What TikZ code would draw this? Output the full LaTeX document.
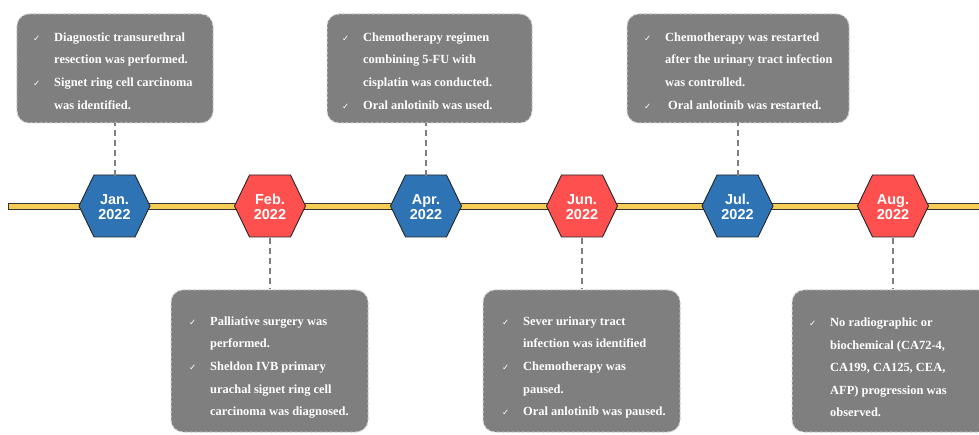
\documentclass[tikz,border=0pt]{standalone}
\usepackage{fontspec}
\setmainfont{Liberation Serif}
\newfontfamily\datefont{Liberation Sans}
\newfontfamily\symfont{DejaVu Sans}
\usepackage{tikz}
\usetikzlibrary{positioning,calc}
\usepackage{xcolor}

\definecolor{janblue}{HTML}{2E74B5}
\definecolor{febred}{HTML}{FF5050}
\definecolor{axisyellow}{HTML}{F5CD55}
\definecolor{boxgray}{HTML}{7F7F7F}
\definecolor{edgegray}{HTML}{CFCFCF}

\newcommand{\ck}{\makebox[21bp][l]{\symfont\fontsize{8.5}{8.5}\selectfont ✓}}
\newcommand{\ind}{\hspace*{21bp}}

\begin{document}
\begin{tikzpicture}[x=1bp,y=-1bp,
  hexline/.style={draw=black!85,line width=0.9bp},
  datelbl/.style={minimum width=71bp,minimum height=62bp,inner sep=0pt,align=center,text=white,
    font=\datefont\bfseries\fontsize{14.5}{15.5}\selectfont},
  notebox/.style={draw=edgegray,fill=boxgray,dash pattern=on 3bp off 2bp,line width=1bp,
    rounded corners=12bp,inner sep=0pt},
  notetxt/.style={anchor=west,align=left,inner sep=0pt,text=white,
    font=\bfseries\fontsize{12.5}{22.7}\selectfont},
  link/.style={draw=boxgray,line width=2bp,dash pattern=on 6bp off 4bp}]
\useasboundingbox (0,0) rectangle (979,435);
\clip (0,0) rectangle (979,435);

% time axis
\draw[fill=axisyellow,draw=black!80,line width=0.8bp] (8,203) rectangle (995,209.3);

% month markers
\draw[hexline,fill=janblue] (114.5,206) +(-35.5,0) -- +(-20.5,-31) -- +(20.5,-31) -- +(35.5,0) -- +(20.5,31) -- +(-20.5,31) -- cycle;
\draw[hexline,fill=febred] (270,206) +(-35.5,0) -- +(-20.5,-31) -- +(20.5,-31) -- +(35.5,0) -- +(20.5,31) -- +(-20.5,31) -- cycle;
\draw[hexline,fill=janblue] (426,206) +(-35.5,0) -- +(-20.5,-31) -- +(20.5,-31) -- +(35.5,0) -- +(20.5,31) -- +(-20.5,31) -- cycle;
\draw[hexline,fill=febred] (582,206) +(-35.5,0) -- +(-20.5,-31) -- +(20.5,-31) -- +(35.5,0) -- +(20.5,31) -- +(-20.5,31) -- cycle;
\draw[hexline,fill=janblue] (737.5,206) +(-35.5,0) -- +(-20.5,-31) -- +(20.5,-31) -- +(35.5,0) -- +(20.5,31) -- +(-20.5,31) -- cycle;
\draw[hexline,fill=febred] (893,206) +(-35.5,0) -- +(-20.5,-31) -- +(20.5,-31) -- +(35.5,0) -- +(20.5,31) -- +(-20.5,31) -- cycle;
\node[datelbl] (jan) at (114.5,207) {Jan.\\2022};
\node[datelbl] (feb) at (270,207) {Feb.\\2022};
\node[datelbl] (apr) at (426,207) {Apr.\\2022};
\node[datelbl] (jun) at (582,207) {Jun.\\2022};
\node[datelbl] (jul) at (737.5,207) {Jul.\\2022};
\node[datelbl] (aug) at (893,207) {Aug.\\2022};

% notes above
\node[notebox,minimum width=196bp,minimum height=109bp] (janbox) at (115,68.5) {};
\node[notebox,minimum width=205bp,minimum height=109bp] (aprbox) at (429.5,68.5) {};
\node[notebox,minimum width=222bp,minimum height=109bp] (julbox) at (738,68.5) {};
\node[notetxt] (jantxt) at (33,71) {\ck Diagnostic transurethral\\\ind resection was performed.\\\ck Signet ring cell carcinoma\\\ind was identified.};
\node[notetxt] (aprtxt) at (342,71) {\ck Chemotherapy regimen\\\ind combining 5-FU with\\\ind cisplatin was conducted.\\\ck Oral anlotinib was used.};
\node[notetxt] (jultxt) at (644,71) {\ck Chemotherapy was restarted\\\ind after the urinary tract infection\\\ind was controlled.\\\ck\hspace*{3bp}Oral anlotinib was restarted.};

% notes below
\node[notebox,minimum width=197bp,minimum height=142bp] (febbox) at (269.5,361) {};
\node[notebox,minimum width=197bp,minimum height=142bp] (junbox) at (581.5,361) {};
\node[notebox,minimum width=198bp,minimum height=142bp] (augbox) at (891,361) {};
\node[notetxt] (febtxt) at (189,367.5) {\ck Palliative surgery was\\\ind performed.\\\ck Sheldon IVB primary\\\ind urachal signet ring cell\\\ind carcinoma was diagnosed.};
\node[notetxt] (juntxt) at (502,367.5) {\ck Sever urinary tract\\\ind infection was identified\\\ck Chemotherapy was\\\ind paused.\\\ck Oral anlotinib was paused.};
\node[notetxt] (augtxt) at (809,367.5) {\ck No radiographic or\\\ind biochemical (CA72-4,\\\ind CA199, CA125, CEA,\\\ind AFP) progression was\\\ind observed.};

% dashed links
\draw[link] (jan.north) -- (jan.north |- janbox.south);
\draw[link] (apr.north) -- (apr.north |- aprbox.south);
\draw[link] (jul.north) -- (jul.north |- julbox.south);
\draw[link] (feb.south) -- (feb.south |- febbox.north);
\draw[link] (jun.south) -- (jun.south |- junbox.north);
\draw[link] (aug.south) -- (aug.south |- augbox.north);
\end{tikzpicture}
\end{document}
